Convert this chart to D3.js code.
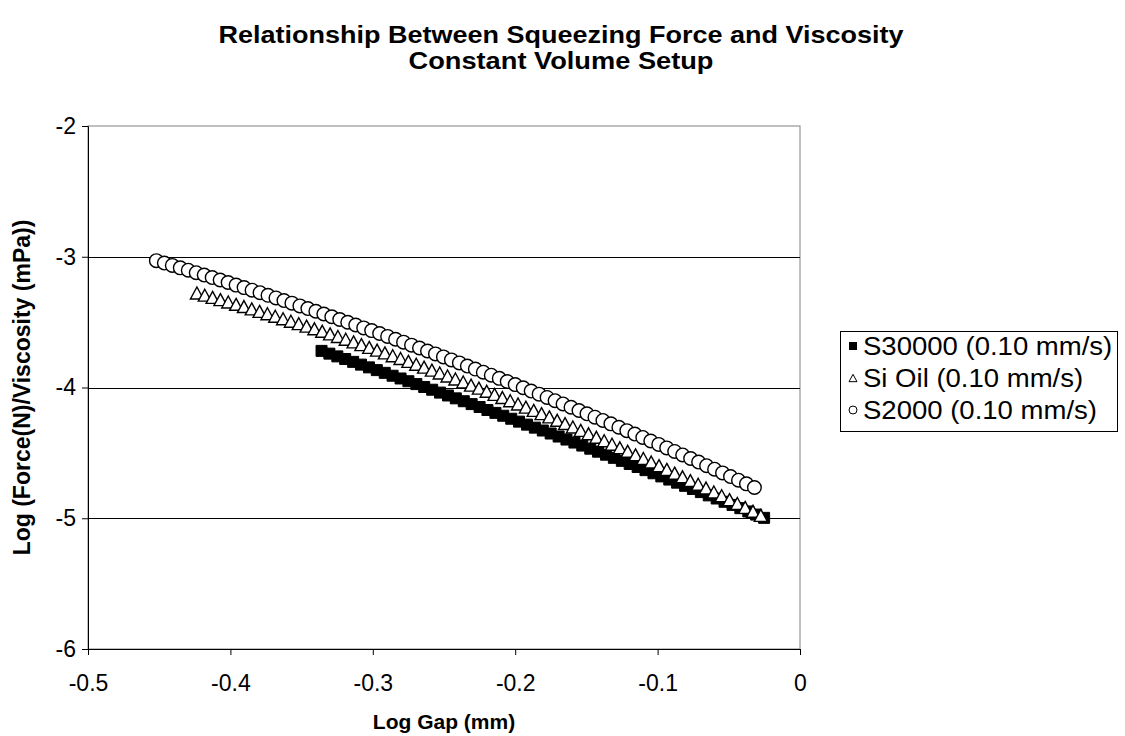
<!DOCTYPE html>
<html>
<head>
<meta charset="utf-8">
<script src="https://cdn.jsdelivr.net/npm/d3@7"></script>
<style>
  html, body { margin: 0; padding: 0; background: #fff; }
  svg { display: block; }
  text { font-family: Arial, "Liberation Sans", sans-serif; fill: #000; }
</style>
</head>
<body>
<svg id="chart" width="1125" height="736"></svg>
<script>
// ---- data: log gap (mm) vs log force/viscosity ----
const s30000X = [-0.336,-0.3305,-0.3249,-0.3194,-0.3138,-0.3083,-0.3027,-0.2972,-0.2916,-0.2861,
  -0.2805,-0.2750,-0.2694,-0.2639,-0.2583,-0.2528,-0.2472,-0.2417,-0.2361,-0.2306,
  -0.2250,-0.2195,-0.2139,-0.2084,-0.2028,-0.1973,-0.1917,-0.1862,-0.1806,-0.1751,
  -0.1695,-0.1640,-0.1584,-0.1529,-0.1473,-0.1418,-0.1362,-0.1307,-0.1251,-0.1196,
  -0.1140,-0.1085,-0.1029,-0.0974,-0.0918,-0.0863,-0.0807,-0.0752,-0.0696,-0.0641,
  -0.0585,-0.0530,-0.0474,-0.0419,-0.0363,-0.0308,-0.0252];
const s30000Y = [-3.720,-3.741,-3.762,-3.782,-3.804,-3.825,-3.846,-3.867,-3.888,-3.910,
  -3.931,-3.952,-3.974,-3.996,-4.017,-4.039,-4.061,-4.083,-4.105,-4.127,
  -4.149,-4.172,-4.194,-4.216,-4.239,-4.261,-4.284,-4.307,-4.329,-4.352,
  -4.375,-4.398,-4.421,-4.444,-4.468,-4.491,-4.514,-4.538,-4.561,-4.585,
  -4.608,-4.632,-4.656,-4.680,-4.704,-4.728,-4.752,-4.776,-4.800,-4.825,
  -4.849,-4.874,-4.898,-4.923,-4.948,-4.972,-4.997];

const siOilX = [-0.4235,-0.4180,-0.4125,-0.4070,-0.4015,-0.3960,-0.3905,-0.3850,-0.3795,-0.3740,
  -0.3685,-0.3630,-0.3575,-0.3520,-0.3465,-0.3410,-0.3355,-0.3300,-0.3245,-0.3190,
  -0.3135,-0.3080,-0.3025,-0.2970,-0.2915,-0.2860,-0.2805,-0.2750,-0.2695,-0.2640,
  -0.2585,-0.2530,-0.2475,-0.2420,-0.2365,-0.2310,-0.2255,-0.2200,-0.2145,-0.2090,
  -0.2035,-0.1980,-0.1925,-0.1870,-0.1815,-0.1760,-0.1705,-0.1650,-0.1595,-0.1540,
  -0.1485,-0.1430,-0.1375,-0.1320,-0.1265,-0.1210,-0.1155,-0.1100,-0.1045,-0.0990,
  -0.0935,-0.0880,-0.0825,-0.0770,-0.0715,-0.0660,-0.0605,-0.0550,-0.0495,-0.0440,
  -0.0385,-0.0330,-0.0275];
const siOilY = [-3.277,-3.294,-3.311,-3.328,-3.346,-3.364,-3.381,-3.399,-3.418,-3.436,
  -3.455,-3.474,-3.493,-3.512,-3.531,-3.551,-3.570,-3.590,-3.610,-3.631,
  -3.651,-3.672,-3.693,-3.714,-3.735,-3.757,-3.778,-3.800,-3.822,-3.844,
  -3.867,-3.889,-3.912,-3.935,-3.958,-3.982,-4.005,-4.029,-4.053,-4.077,
  -4.101,-4.126,-4.150,-4.175,-4.200,-4.225,-4.251,-4.276,-4.302,-4.328,
  -4.354,-4.381,-4.407,-4.434,-4.461,-4.488,-4.515,-4.543,-4.570,-4.598,
  -4.626,-4.655,-4.683,-4.712,-4.740,-4.769,-4.799,-4.828,-4.858,-4.887,
  -4.917,-4.947,-4.978];

const s2000X = [-0.4520,-0.4464,-0.4408,-0.4352,-0.4296,-0.4240,-0.4184,-0.4128,-0.4072,-0.4016,
  -0.3960,-0.3904,-0.3848,-0.3792,-0.3736,-0.3680,-0.3624,-0.3568,-0.3512,-0.3456,
  -0.3400,-0.3344,-0.3288,-0.3232,-0.3176,-0.3120,-0.3064,-0.3008,-0.2952,-0.2896,
  -0.2840,-0.2784,-0.2728,-0.2672,-0.2616,-0.2560,-0.2504,-0.2448,-0.2392,-0.2336,
  -0.2280,-0.2224,-0.2168,-0.2112,-0.2056,-0.2000,-0.1944,-0.1888,-0.1832,-0.1776,
  -0.1720,-0.1664,-0.1608,-0.1552,-0.1496,-0.1440,-0.1384,-0.1328,-0.1272,-0.1216,
  -0.1160,-0.1104,-0.1048,-0.0992,-0.0936,-0.0880,-0.0824,-0.0768,-0.0712,-0.0656,
  -0.0600,-0.0544,-0.0488,-0.0432,-0.0376,-0.0320];
const s2000Y = [-3.030,-3.048,-3.066,-3.085,-3.103,-3.122,-3.140,-3.159,-3.178,-3.197,
  -3.217,-3.236,-3.256,-3.275,-3.295,-3.315,-3.335,-3.355,-3.376,-3.396,
  -3.417,-3.438,-3.459,-3.480,-3.501,-3.522,-3.544,-3.565,-3.587,-3.609,
  -3.631,-3.653,-3.676,-3.698,-3.721,-3.743,-3.766,-3.789,-3.812,-3.836,
  -3.859,-3.883,-3.906,-3.930,-3.954,-3.978,-4.002,-4.027,-4.051,-4.076,
  -4.101,-4.126,-4.151,-4.176,-4.201,-4.227,-4.252,-4.278,-4.304,-4.330,
  -4.356,-4.382,-4.409,-4.435,-4.462,-4.489,-4.516,-4.543,-4.570,-4.598,
  -4.625,-4.653,-4.681,-4.709,-4.737,-4.765];

const xTicks = [-0.5, -0.4, -0.3, -0.2, -0.1, 0];
const xTickLabels = ["-0.5", "-0.4", "-0.3", "-0.2", "-0.1", "0"];
const yTicks = [-2, -3, -4, -5, -6];
const yTickLabels = ["-2", "-3", "-4", "-5", "-6"];

const seriesNames = ["S30000 (0.10 mm/s)", "Si Oil (0.10 mm/s)", "S2000 (0.10 mm/s)"];
const titleLines = ["Relationship Between Squeezing Force and Viscosity", "Constant Volume Setup"];
const xAxisTitle = "Log Gap (mm)";
const yAxisTitle = "Log (Force(N)/Viscosity (mPa))";

// ---- layout ----
const svg = d3.select("#chart");
const plot = { left: 88, right: 800, top: 126, bottom: 649 };

const x = d3.scaleLinear().domain([-0.5, 0]).range([plot.left, plot.right]);
const y = d3.scaleLinear().domain([-6, -2]).range([plot.bottom, plot.top]);

// plot area frame
svg.append("rect")
  .attr("x", plot.left).attr("y", plot.top)
  .attr("width", plot.right - plot.left).attr("height", plot.bottom - plot.top)
  .attr("fill", "#fff").attr("stroke", "#808080").attr("stroke-width", 1);

// horizontal gridlines
svg.append("g")
  .selectAll("line")
  .data(yTicks.filter(d => d !== -6 && d !== -2))
  .join("line")
  .attr("x1", plot.left).attr("x2", plot.right)
  .attr("y1", d => Math.round(y(d)) + 0.5).attr("y2", d => Math.round(y(d)) + 0.5)
  .attr("stroke", "#000").attr("stroke-width", 1);

// axes
const xAxis = d3.axisBottom(x)
  .tickValues(xTicks)
  .tickFormat((d, i) => xTickLabels[i])
  .tickSize(6).tickPadding(20);
const yAxis = d3.axisLeft(y)
  .tickValues(yTicks)
  .tickFormat((d, i) => yTickLabels[i])
  .tickSize(6).tickPadding(6);

const gx = svg.append("g").attr("transform", `translate(0,${plot.bottom})`).call(xAxis);
const gy = svg.append("g").attr("transform", `translate(${plot.left},0)`).call(yAxis);
[gx, gy].forEach(g => {
  g.attr("font-size", null).attr("font-family", null);
  g.select(".domain").attr("stroke", "#000").attr("stroke-width", 1);
  g.selectAll(".tick line").attr("stroke", "#000");
  g.selectAll(".tick text")
    .style("font-family", "Arial, 'Liberation Sans', sans-serif")
    .style("font-size", "23px").attr("fill", "#000");
});

// marker shapes
const squarePath = d3.symbol().type(d3.symbolSquare).size(121);
function triPath(s) {
  const h = s * 0.92;
  return `M0,${-h / 2}L${s / 2},${h / 2}L${-s / 2},${h / 2}Z`;
}

// S30000 : filled squares
svg.append("g")
  .selectAll("path")
  .data(d3.zip(s30000X, s30000Y))
  .join("path")
  .attr("transform", d => `translate(${x(d[0])},${y(d[1])})`)
  .attr("d", squarePath())
  .attr("fill", "#000").attr("stroke", "#000").attr("stroke-width", 1);

// Si Oil : open triangles
svg.append("g")
  .selectAll("path")
  .data(d3.zip(siOilX, siOilY))
  .join("path")
  .attr("transform", d => `translate(${x(d[0])},${y(d[1])})`)
  .attr("d", triPath(13))
  .attr("fill", "#fff").attr("stroke", "#000").attr("stroke-width", 1.4);

// S2000 : open circles
svg.append("g")
  .selectAll("circle")
  .data(d3.zip(s2000X, s2000Y))
  .join("circle")
  .attr("cx", d => x(d[0])).attr("cy", d => y(d[1]))
  .attr("r", 6.8)
  .attr("fill", "#fff").attr("stroke", "#000").attr("stroke-width", 1.4);

// title (two lines, slightly wide lettering)
const titleWidths = [685, 305];
svg.append("g")
  .selectAll("text")
  .data(titleLines)
  .join("text")
  .attr("x", 561).attr("y", (d, i) => 42.5 + i * 26.5)
  .attr("text-anchor", "middle")
  .attr("font-size", 23.5).attr("font-weight", "bold")
  .attr("textLength", (d, i) => titleWidths[i])
  .attr("lengthAdjust", "spacingAndGlyphs")
  .text(d => d);

// axis titles
svg.append("text")
  .attr("x", (plot.left + plot.right) / 2).attr("y", 729)
  .attr("text-anchor", "middle")
  .attr("font-size", 21).attr("font-weight", "bold")
  .text(xAxisTitle);
svg.append("text")
  .attr("transform", `translate(30,${(plot.top + plot.bottom) / 2}) rotate(-90)`)
  .attr("text-anchor", "middle")
  .attr("font-size", 23).attr("font-weight", "bold")
  .text(yAxisTitle);

// legend
const legend = svg.append("g");
legend.append("rect")
  .attr("x", 840.5).attr("y", 331.5).attr("width", 277).attr("height", 100)
  .attr("fill", "#fff").attr("stroke", "#000").attr("stroke-width", 1);
const rowY = [346, 378, 410];
const items = legend.selectAll("g.item")
  .data(seriesNames)
  .join("g")
  .attr("class", "item")
  .attr("transform", (d, i) => `translate(0,${rowY[i]})`);
items.append("text")
  .attr("transform", "translate(863,0) scale(1.08,1)")
  .attr("x", 0).attr("y", 0).attr("dy", "0.35em")
  .attr("font-size", 25.5)
  .text(d => d);
items.filter((d, i) => i === 0).append("rect")
  .attr("x", 849).attr("y", -4).attr("width", 8).attr("height", 8).attr("fill", "#000");
items.filter((d, i) => i === 1).append("path")
  .attr("transform", "translate(853,0)")
  .attr("d", triPath(8))
  .attr("fill", "#fff").attr("stroke", "#000").attr("stroke-width", 1);
items.filter((d, i) => i === 2).append("circle")
  .attr("cx", 853).attr("cy", 0).attr("r", 4)
  .attr("fill", "#fff").attr("stroke", "#000").attr("stroke-width", 1);
</script>
</body>
</html>
